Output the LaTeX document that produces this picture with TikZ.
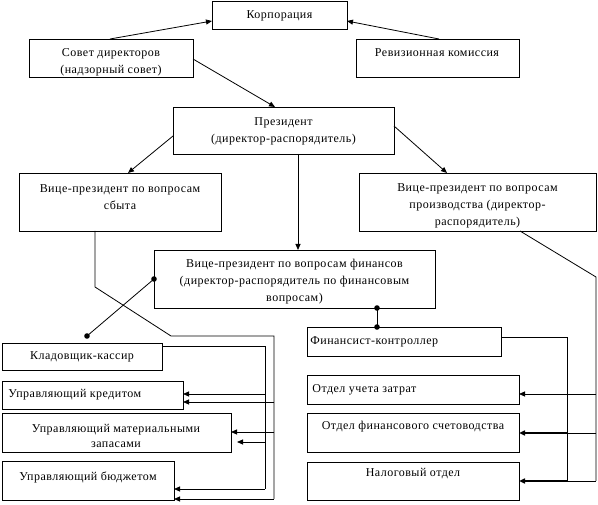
\documentclass[tikz,border=0pt]{standalone}
\usepackage{fontspec}
\setmainfont{Liberation Serif}[LetterSpace=4]
\usetikzlibrary{arrows.meta,calc}
\newcommand\Bx[5]{\node[box,minimum width=#4pt,minimum height=#5pt] (#1) at (#2,#3) {};}
\begin{document}
\begin{tikzpicture}[x=1pt,y=-1pt, line width=0.8pt,
 box/.style={draw, anchor=north west, inner sep=0pt, outer sep=0pt},
 txt/.style={inner sep=0pt, align=center, yshift=-1.5pt, font=\fontsize{12}{17}\selectfont},
 ltxt/.style={txt, anchor=west},
 arr/.style={-{Triangle[length=6pt,width=5pt]}},
 thk/.style={arr, line width=1.6pt},
 dotm/.style={fill=black}]
\useasboundingbox (0,0) rectangle (598,505);
% boxes
\Bx{corp}{212}{1}{135}{28}
\Bx{sd}{29}{39}{164}{38}
\Bx{rk}{356}{39}{163}{38}
\Bx{pres}{173}{107}{221}{47}
\Bx{vps}{19}{173}{202}{58}
\Bx{vpp}{359}{173}{237}{58}
\Bx{vpf}{154}{250}{281}{58}
\Bx{kk}{2}{343}{160}{27}
\Bx{uk}{2}{381}{181}{28}
\Bx{um}{2}{413}{229}{39}
\Bx{ub}{2}{461}{172}{39}
\Bx{fc}{307}{327}{194}{29}
\Bx{ou}{307}{375}{212}{29}
\Bx{ofs}{307}{413}{212}{39}
\Bx{no}{307}{462}{212}{38}
% texts
\node[txt] (corp-t) at (279.5,14) {Корпорация};
\node[txt] (sd-t) at (111,61) {Совет директоров\\(надзорный совет)};
\node[txt] (rk-t) at (437,51) {Ревизионная комиссия};
\node[txt] (pres-t) at (283.5,129.5) {Президент\\(директор-распорядитель)};
\node[txt] (vps-t) at (120,195.5) {Вице-президент по вопросам\\сбыта};
\node[txt] (vpp-t) at (477.5,204.5) {Вице-президент по вопросам\\производства (директор-\\распорядитель)};
\node[txt] (vpf-t) at (294.5,280) {Вице-президент по вопросам финансов\\(директор-распорядитель по финансовым\\вопросам)};
\node[txt] (kk-t) at (82,355) {Кладовщик-кассир};
\node[ltxt] (uk-t) at (8,393) {Управляющий кредитом};
\node[txt, font=\fontsize{12}{15}\selectfont] (um-t) at (116,434) {Управляющий материальными\\запасами};
\node[txt] (ub-t) at (88,476) {Управляющий бюджетом};
\node[ltxt] (fc-t) at (310,340) {Финансист-контроллер};
\node[ltxt] (ou-t) at (312,388) {Отдел учета затрат};
\node[txt] (ofs-t) at (413,425) {Отдел финансового счетоводства};
\node[txt] (no-t) at (413,472) {Налоговый отдел};
% top arrows
\draw[arr] ($(sd.north west)+(81,0)$) -- ($(corp.north west)+(0,20)$);
\draw[arr] ($(rk.north west)+(83,0)$) -- ($(corp.north east)+(0,20)$);
\draw[arr] ($(sd.north east)+(0,20)$) -- ($(pres.north west)+(102,0)$);
\draw[arr] ($(pres.north west)+(0,29)$) -- ($(vps.north west)+(109,0)$);
\draw[arr] ($(pres.north east)+(0,19)$) -- ($(vpp.north west)+(88,0)$);
\draw[arr] ($(pres.south west)+(125,0)$) -- ($(vpf.north west)+(144,0)$);
% left buses
\coordinate (a1) at (95,287);
\coordinate (a2) at (171,336);
\coordinate (a3) at (274,336);
\coordinate (a4) at (274,499);
\draw ($(vps.south west)+(76,0)$) -- (a1) -- (a2) -- (a3) -- (a4);
\draw[arr] (274,402) -- ($(uk.north east)+(0,21)$);
\draw[arr] (274,432) -- ($(um.north east)+(0,19)$);
\draw[arr] (a4) -- ($(ub.south east)+(0,-1)$);
\coordinate (b1) at (265,346);
\coordinate (b2) at (265,489);
\draw ($(kk.north east)+(0,3)$) -- (b1) -- (b2);
\draw[arr] (265,394) -- ($(uk.north east)+(0,13)$);
\draw[arr] (265,442) -- ($(um.north east)+(6,29)$);
\draw[arr] (b2) -- ($(ub.north east)+(0,28)$);
% right buses
\coordinate (c1) at (596,277);
\coordinate (c2) at (596,481);
\draw ($(vpp.south west)+(161,0)$) -- (c1) -- (c2);
\draw[arr] (596,394) -- ($(ou.north east)+(0,19)$);
\draw (596,433) -- (567,433);
\draw (c2) -- (567,481);
\coordinate (e1) at (567,337);
\coordinate (e2) at (567,481);
\draw ($(fc.north east)+(0,10)$) -- (e1) -- (e2);
\draw[thk] (567,433) -- ($(ofs.north east)+(0,20)$);
\draw[thk] (e2) -- ($(no.north east)+(0,19)$);
% dot connectors
\coordinate (d1) at ($(vpf.south west)+(223,0)$);
\coordinate (d2) at ($(fc.north west)+(70,0)$);
\coordinate (d3) at ($(vpf.north west)+(0,29)$);
\coordinate (d4) at ($(kk.north west)+(85,-7)$);
\draw (d1) -- (d2);
\draw (d3) -- (d4);
\foreach \p in {d1,d2,d3,d4} \fill[dotm] (\p) circle[radius=2.8pt];
\end{tikzpicture}
\end{document}
